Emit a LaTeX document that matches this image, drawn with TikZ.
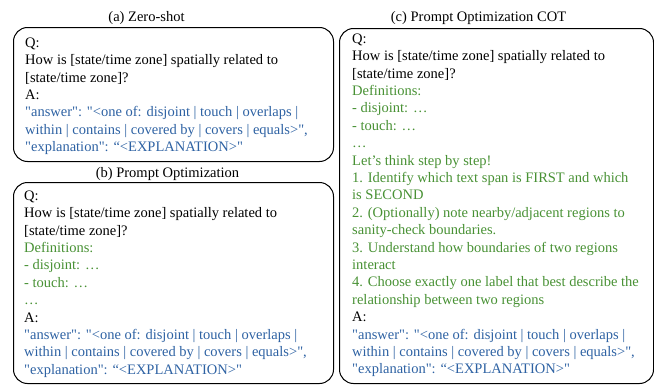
\documentclass[tikz,border=0pt]{standalone}
\usepackage{fontspec}
\setmainfont{Liberation Serif}[Ligatures=TeXOff]
\usetikzlibrary{positioning}
\definecolor{ansblue}{RGB}{46,98,163}
\definecolor{defgreen}{RGB}{72,145,52}
\newcommand*{\blu}[1]{\textcolor{ansblue}{#1}}
\newcommand*{\grn}[1]{\textcolor{defgreen}{#1}}
% The parts that every prompt shares
\newcommand*{\qpart}{Q:\\How is [state/time zone] spatially related to\\{[}state/time zone]?}
\newcommand*{\apart}{A:\\\blu{"answer": "<one of: disjoint | touch | overlaps |}\\
  \blu{within | contains | covered by | covers | equals>",}\\
  \blu{"explanation": “<EXPLANATION>"}}
\newcommand*{\defpart}{\grn{Definitions:}\\\grn{- disjoint: …}\\\grn{- touch: …}\\\grn{…}}

\begin{document}
\begin{tikzpicture}[x=1pt,y=-1pt,
  panel/.style={draw,line width=1pt,rounded corners=14pt,anchor=north west,inner sep=0pt},
  txt/.style={anchor=north west,inner sep=0pt,align=left,
    font=\fontsize{14.5}{17.4}\selectfont},
  title/.style={anchor=base,inner sep=0pt,font=\fontsize{14.5}{17.4}\selectfont}]
\useasboundingbox (0,0) rectangle (654,388);
% Frames of the three prompts
\node[panel,minimum width=320pt,minimum height=134pt] (zeroshot) at (13,27) {};
\node[panel,minimum width=320pt,minimum height=201pt] (promptopt) at (13,182) {};
\node[panel,minimum width=314pt,minimum height=355pt] (promptcot) at (339,28) {};
% Titles above the frames
\node[title] (titlea) at (146.5,21) {(a) Zero-shot};
\node[title] (titleb) at (167.5,177) {(b) Prompt Optimization};
\node[title] (titlec) at (478.5,21) {(c) Prompt Optimization COT};
% Prompt texts
\node[txt,below right=10.4pt and 12pt of zeroshot.north west] (texta) {\qpart\\\apart};
\node[txt,below right=8.4pt and 11pt of promptopt.north west] (textb) {\qpart\\\defpart\\\apart};
\node[txt,below right=5.4pt and 13pt of promptcot.north west] (textc) {\qpart\\\defpart\\
  \grn{Let’s think step by step!}\\
  \grn{1. Identify which text span is FIRST and which}\\
  \grn{is SECOND}\\
  \grn{2. (Optionally) note nearby/adjacent regions to}\\
  \grn{sanity-check boundaries.}\\
  \grn{3. Understand how boundaries of two regions}\\
  \grn{interact}\\
  \grn{4. Choose exactly one label that best describe the}\\
  \grn{relationship between two regions}\\
  \apart};
\end{tikzpicture}
\end{document}
